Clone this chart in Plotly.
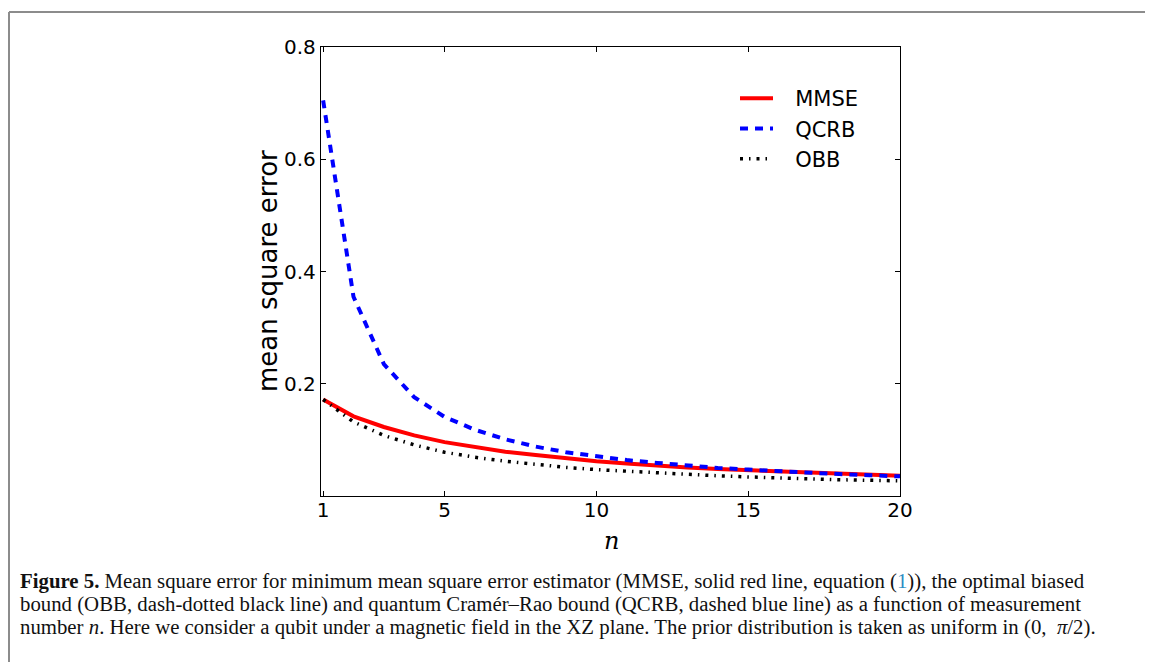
import plotly.graph_objects as go

# ---- data ----
n_values = list(range(1, 21))
mmse = [0.172, 0.142, 0.123, 0.108, 0.096, 0.087, 0.079, 0.073, 0.067, 0.062,
        0.058, 0.054, 0.051, 0.048, 0.046, 0.043, 0.041, 0.040, 0.038, 0.036]
qcrb = [0.705, 0.355, 0.235, 0.176, 0.141, 0.118, 0.101, 0.088, 0.078, 0.071,
        0.064, 0.059, 0.054, 0.050, 0.047, 0.044, 0.041, 0.039, 0.037, 0.035]
obb = [0.172, 0.132, 0.108, 0.091, 0.078, 0.069, 0.062, 0.056, 0.051, 0.047,
       0.044, 0.041, 0.038, 0.036, 0.034, 0.032, 0.030, 0.029, 0.028, 0.027]
series_names = ["MMSE", "QCRB", "OBB"]
x_ticks = [1, 5, 10, 15, 20]
y_ticks = [0.2, 0.4, 0.6, 0.8]
y_tick_text = ["0.2", "0.4", "0.6", "0.8"]

caption_lines = [
    "<b>Figure 5.</b> Mean square error for minimum mean square error estimator (MMSE, solid red line, equation "
    "(<span style='color:#2b8cc4'>1</span>)), the optimal biased",
    "bound (OBB, dash-dotted black line) and quantum Cramér–Rao bound (QCRB, dashed blue line) as a function of measurement",
    "number <i>n</i>. Here we consider a qubit under a magnetic field in the XZ plane. The prior distribution is taken as uniform in (0,  <i>π</i>/2).",
]

# ---- layout geometry (page pixels; page body has an 8px margin) ----
OFF = 8
W, H = 1153, 662
PL, PR, PT, PB = 321, 900, 47, 496   # plot area edges in page pixels
L, R, T, B = PL - OFF, W - (PR - OFF), PT - OFF, H - (PB - OFF)
PW, PH = PR - PL, PB - PT


def px(x):
    return (x - PL) / PW


def py(y):
    return (PB - y) / PH


LEG_PAD = "\u2002\u00a0"

fig = go.Figure()
fig.add_trace(go.Scatter(x=n_values, y=mmse, mode="lines", name=LEG_PAD + series_names[0],
                         legendgroup="a", line=dict(color="#ff0000", width=4)))
fig.add_trace(go.Scatter(x=n_values, y=qcrb, mode="lines", name=LEG_PAD + series_names[1],
                         legendgroup="b", line=dict(color="#0000ff", width=4, dash="8px,7px")))
fig.add_trace(go.Scatter(x=n_values, y=obb, mode="lines", name=LEG_PAD + series_names[2],
                         legendgroup="c", line=dict(color="#000000", width=3.5, dash="3px,6px,1.5px,6px")))

axis_common = dict(showline=True, linecolor="black", linewidth=1.3, mirror="allticks",
                   ticks="inside", ticklen=5, tickwidth=1.2, tickcolor="black",
                   showgrid=False, zeroline=False,
                   tickfont=dict(family="DejaVu Sans", size=20, color="black"))

fig.update_xaxes(range=[0.93, 20], tickvals=x_ticks, ticklabelstandoff=-4, **axis_common)
fig.update_yaxes(range=[0.0, 0.8], tickvals=y_ticks, ticktext=y_tick_text, **axis_common)

shapes = [
    dict(type="line", xref="paper", yref="paper", x0=px(9), x1=px(W + 20), y0=py(12), y1=py(12),
         line=dict(color="#8c8c8c", width=2)),
    dict(type="line", xref="paper", yref="paper", x0=px(9), x1=px(9), y0=py(12), y1=py(H + 20),
         line=dict(color="#8c8c8c", width=2)),
]

annotations = [
    dict(text="mean square error", xref="paper", yref="paper", x=px(268), y=py(271),
         textangle=-90, showarrow=False, xanchor="center", yanchor="middle",
         font=dict(family="DejaVu Sans", size=26, color="black")),
    dict(text="<i>n</i>", xref="paper", yref="paper", x=px(611), y=py(541),
         showarrow=False, xanchor="center", yanchor="middle",
         font=dict(family="DejaVu Serif", size=24, color="black")),
]
cap_y = [581, 604, 627]
for line, yy in zip(caption_lines, cap_y):
    annotations.append(dict(text=line, xref="paper", yref="paper", x=px(18), y=py(yy),
                            showarrow=False, xanchor="left", yanchor="middle", align="left",
                            font=dict(family="Liberation Serif", size=20.8, color="#111111")))

fig.update_layout(
    width=W, height=H, autosize=False,
    margin=dict(l=L, r=R, t=T, b=B, pad=0),
    paper_bgcolor="white", plot_bgcolor="white",
    showlegend=True,
    legend=dict(x=px(735), y=py(78), xanchor="left", yanchor="top",
                bgcolor="rgba(0,0,0,0)", borderwidth=0, tracegroupgap=0, itemwidth=33,
                font=dict(family="DejaVu Sans", size=21, color="black")),
    shapes=shapes,
    annotations=annotations,
)

fig.write_html("out.html")
